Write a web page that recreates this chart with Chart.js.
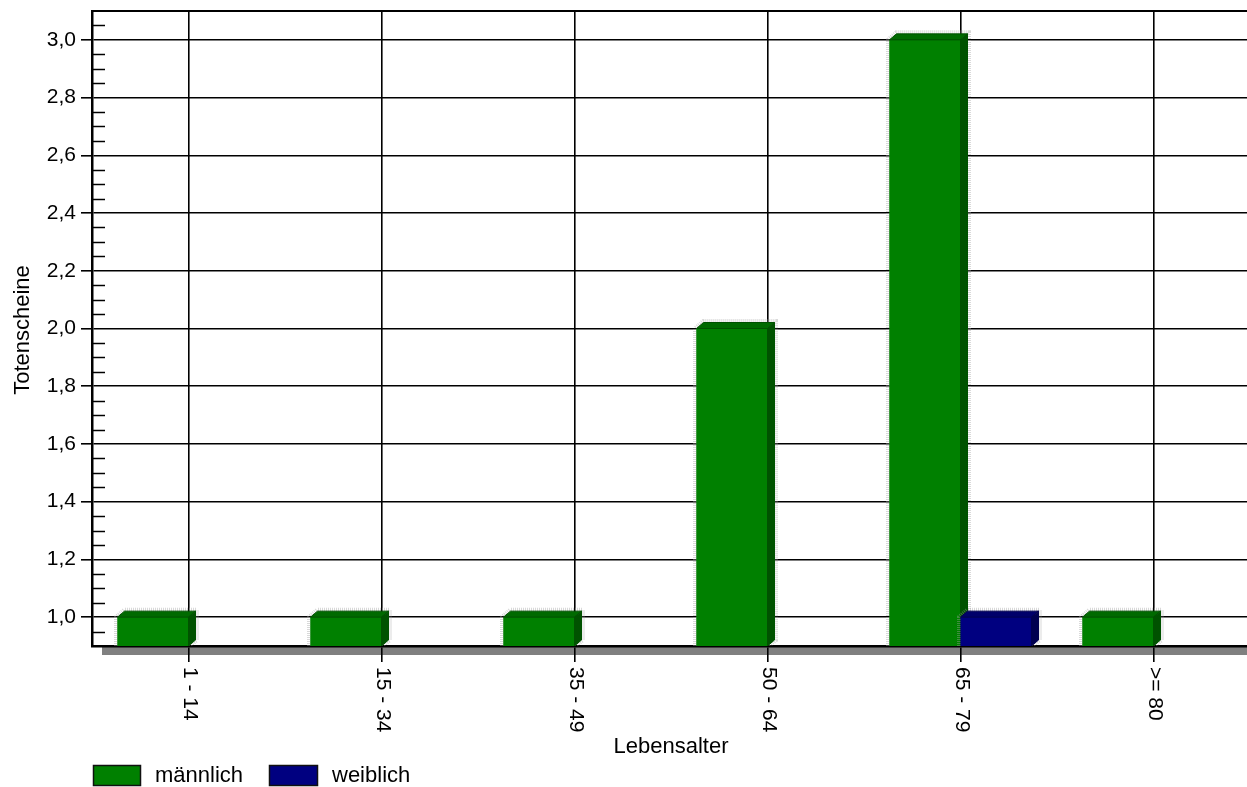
<!DOCTYPE html>
<html>
<head>
<meta charset="utf-8">
<title>Totenscheine nach Lebensalter</title>
<script src="https://cdn.jsdelivr.net/npm/chart.js@4"></script>
<style>
  html, body { margin: 0; padding: 0; background: #fff; overflow: hidden; }
  canvas { display: block; }
</style>
</head>
<body>
<canvas id="chart" width="1250" height="787"></canvas>
<script>
// Age groups and counts per sex
const ageGroups = ['1 - 14', '15 - 34', '35 - 49', '50 - 64', '65 - 79', '>= 80'];
const maleCounts = [1, 1, 1, 2, 3, 1];
const femaleCounts = [null, null, null, null, 1, null];
const seriesLabels = ['männlich', 'weiblich'];
const yMajorTicks = [1.0, 1.2, 1.4, 1.6, 1.8, 2.0, 2.2, 2.4, 2.6, 2.8, 3.0];
const yRange = [0.9, 3.1];

const FONT = '"Liberation Sans", Arial, sans-serif';
const faceColors = [
  { front: '#008000', top: '#006a00', side: '#005200' },
  { front: '#000080', top: '#00006a', side: '#000050' }
];

// Gray floor strip under the category axis
const floorPlugin = {
  id: 'floor',
  beforeDraw(chart) {
    const { ctx, chartArea } = chart;
    ctx.save();
    ctx.fillStyle = '#808080';
    ctx.fillRect(chartArea.left + 10, chartArea.bottom + 1, chart.width, 8);
    ctx.restore();
  }
};

// Depth faces (top + right side) on every bar
const depthPlugin = {
  id: 'depth',
  afterDatasetsDraw(chart) {
    const { ctx, chartArea } = chart;
    const dx = 7, dy = 6;
    ctx.save();
    ctx.beginPath();
    ctx.rect(chartArea.left, chartArea.top, chartArea.right - chartArea.left, chartArea.bottom - chartArea.top);
    ctx.clip();
    chart.data.datasets.forEach((ds, di) => {
      const meta = chart.getDatasetMeta(di);
      const col = faceColors[di];
      meta.data.forEach((bar, i) => {
        if (ds.data[i] == null) return;
        const p = bar.getProps(['x', 'y', 'base', 'width'], true);
        const l = p.x - p.width / 2, r = p.x + p.width / 2, t = p.y, b = p.base;
        // soft gray halo around the block
        ctx.beginPath();
        ctx.moveTo(l - 1, b);
        ctx.lineTo(l - 1, t);
        ctx.lineTo(l + dx, t - dy - 1);
        ctx.lineTo(r + dx + 1, t - dy - 1);
        ctx.lineTo(r + dx + 1, b - dy);
        ctx.lineTo(r, b);
        ctx.strokeStyle = 'rgba(160,160,160,0.4)';
        ctx.lineWidth = 5;
        ctx.setLineDash([1, 1]);
        ctx.stroke();
        ctx.setLineDash([]);
        // front face again so the halo stays outside
        ctx.fillStyle = col.front;
        ctx.fillRect(l, t, r - l, b - t);
        // top face
        ctx.beginPath();
        ctx.moveTo(l, t);
        ctx.lineTo(l + dx, t - dy);
        ctx.lineTo(r + dx, t - dy);
        ctx.lineTo(r, t);
        ctx.closePath();
        ctx.fillStyle = col.top;
        ctx.fill();
        ctx.strokeStyle = col.side;
        ctx.lineWidth = 1;
        ctx.stroke();
        // right face
        ctx.beginPath();
        ctx.moveTo(r, t);
        ctx.lineTo(r + dx, t - dy);
        ctx.lineTo(r + dx, b - dy);
        ctx.lineTo(r, b);
        ctx.closePath();
        ctx.fillStyle = col.side;
        ctx.fill();
        ctx.stroke();
      });
    });
    ctx.restore();
  }
};

// Minor ticks, top frame, rotated category labels, axis titles and legend
const decorPlugin = {
  id: 'decor',
  afterDraw(chart) {
    const { ctx, chartArea } = chart;
    const y = chart.scales.y, x = chart.scales.x;
    ctx.save();
    // minor ticks inside the value axis
    ctx.strokeStyle = '#000';
    ctx.lineWidth = 1.5;
    for (let k = 19; k <= 61; k++) {
      if ((k - 20) % 4 === 0) continue;
      const v = k * 0.05;
      const py = Math.round(y.getPixelForValue(v)) + 0.5;
      ctx.beginPath();
      ctx.moveTo(chartArea.left, py);
      ctx.lineTo(chartArea.left + 13, py);
      ctx.stroke();
    }
    // top frame
    ctx.lineWidth = 2;
    ctx.beginPath();
    ctx.moveTo(chartArea.left, chartArea.top);
    ctx.lineTo(chart.width, chartArea.top);
    ctx.stroke();

    ctx.fillStyle = '#000';
    // category labels, rotated clockwise
    ctx.font = '21px ' + FONT;
    ctx.textAlign = 'left';
    ctx.textBaseline = 'middle';
    ageGroups.forEach((lab, i) => {
      const px = x.getPixelForTick(i);
      ctx.save();
      ctx.translate(px + 1, chartArea.bottom + 21);
      ctx.rotate(Math.PI / 2);
      ctx.fillText(lab, 0, 0);
      ctx.restore();
    });

    // axis titles
    ctx.font = '22px ' + FONT;
    ctx.textAlign = 'center';
    ctx.fillText('Lebensalter', 671, 747);
    ctx.save();
    ctx.translate(23, 330);
    ctx.rotate(-Math.PI / 2);
    ctx.fillText('Totenscheine', 0, 0);
    ctx.restore();

    // legend
    const legend = [
      { box: 93.5, w: 47, text: 155 },
      { box: 269.5, w: 48, text: 332 }
    ];
    ctx.textAlign = 'left';
    legend.forEach((lg, i) => {
      ctx.fillStyle = faceColors[i].front;
      ctx.fillRect(lg.box, 765.5, lg.w, 20);
      ctx.strokeStyle = '#111';
      ctx.lineWidth = 1.5;
      ctx.strokeRect(lg.box, 765.5, lg.w, 20);
      ctx.fillStyle = '#000';
      ctx.fillText(seriesLabels[i], lg.text, 776);
    });
    ctx.restore();
  }
};

new Chart(document.getElementById('chart'), {
  type: 'bar',
  data: {
    labels: ageGroups,
    datasets: [
      {
        label: seriesLabels[0],
        data: maleCounts,
        base: yRange[0],
        backgroundColor: faceColors[0].front,
        borderWidth: 0,
        barPercentage: 1.0,
        categoryPercentage: 0.736
      },
      {
        label: seriesLabels[1],
        data: femaleCounts,
        base: yRange[0],
        backgroundColor: faceColors[1].front,
        borderWidth: 0,
        barPercentage: 1.0,
        categoryPercentage: 0.736
      }
    ]
  },
  options: {
    responsive: false,
    devicePixelRatio: 1,
    animation: false,
    layout: { padding: { top: 11, right: 0, left: 0, bottom: 0 } },
    plugins: {
      legend: { display: false },
      tooltip: { enabled: false }
    },
    scales: {
      x: {
        offset: true,
        grid: {
          offset: false,
          color: '#000',
          lineWidth: 1.6,
          drawTicks: true,
          tickLength: 16
        },
        border: { display: true, color: '#000', width: 2.5 },
        ticks: { display: false },
        afterFit(scale) {
          scale.height = 141;
          scale.paddingLeft = 0;
          scale.paddingRight = 0;
        }
      },
      y: {
        min: yRange[0],
        max: yRange[1],
        afterBuildTicks(scale) {
          scale.ticks = yMajorTicks.map(v => ({ value: v }));
        },
        grid: {
          color: '#000',
          lineWidth: 1.6,
          drawTicks: true,
          tickLength: 11
        },
        border: { display: true, color: '#000', width: 2.5 },
        ticks: {
          color: '#000',
          padding: 5,
          font: { family: FONT, size: 21 },
          callback: (v) => Number(v).toFixed(1).replace('.', ',')
        },
        afterFit(scale) {
          scale.width = 92;
          scale.paddingTop = 0;
          scale.paddingBottom = 0;
        }
      }
    }
  },
  plugins: [floorPlugin, depthPlugin, decorPlugin]
});
</script>
</body>
</html>
